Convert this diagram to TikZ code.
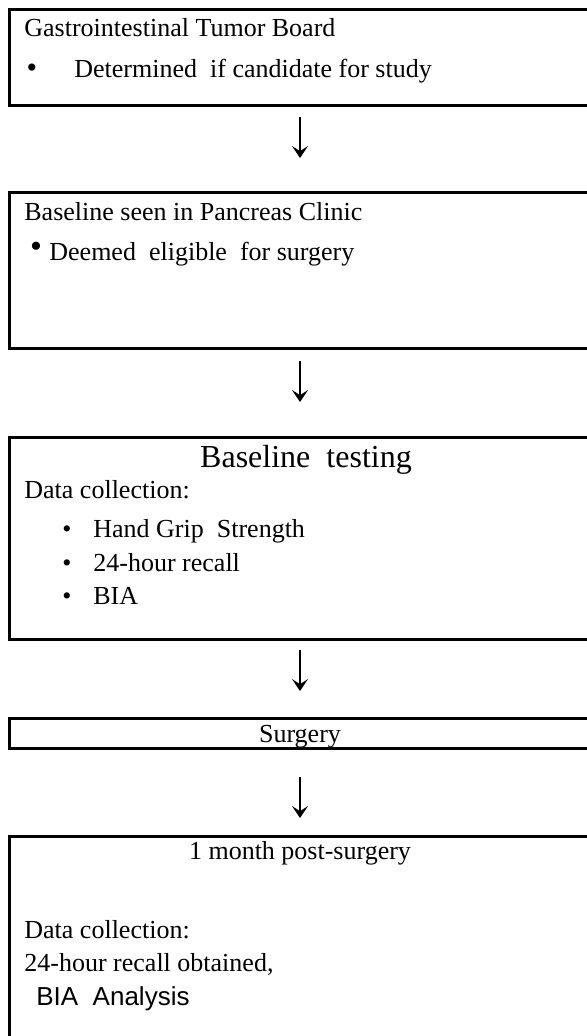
\documentclass[tikz,border=0pt]{standalone}
\usepackage{fontspec}
\setmainfont{Liberation Serif}
\newfontfamily\arialfont{Liberation Sans}
\usetikzlibrary{arrows.meta}
\tikzset{
  frame/.style={draw=black,line width=1.5pt},                 % step box
  txt/.style={anchor=base west,inner sep=0pt,font=\fontsize{13}{17}\selectfont},
  ctxt/.style={anchor=base,inner sep=0pt,font=\fontsize{13}{17}\selectfont},
  blt/.style={anchor=base,inner sep=0pt,font=\fontsize{13}{17}\selectfont},
  flow/.style={-{Stealth[length=6pt,width=8pt,inset=2.6pt]},line width=0.9pt},
}

\begin{document}
\begin{tikzpicture}[x=0.5pt,y=-0.5pt]
  \useasboundingbox (0,0) rectangle (587,1036);
  % boxes run off the right (and last one off the bottom)
  \draw[frame] (9,10) rectangle (600,106);
  \draw[frame] (9,193) rectangle (600,349);
  \draw[frame] (9,438) rectangle (600,639);
  \draw[frame] (9,718) rectangle (600,748);
  \draw[frame] (9,836) rectangle (600,1050);
  % tumor board
  \node[txt] (gtb) at (24,37) {Gastrointestinal Tumor Board};
  \node[blt,font=\fontsize{15}{17}\selectfont] (gtbb) at (32,78) {\textbullet};
  \node[txt] (cand) at (74,78) {Determined\ \ if candidate for study};
  % pancreas clinic
  \node[txt] (pcl) at (24,221) {Baseline seen in Pancreas Clinic};
  \node[blt,font=\fontsize{17}{17}\selectfont] (pclb) at (36,258) {\textbullet};
  \node[txt] (elig) at (49,261) {Deemed\ \ eligible\ \ for surgery};
  % baseline testing
  \node[ctxt,font=\fontsize{16}{18}\selectfont] (bt) at (306,467) {Baseline\ \ testing};
  \node[txt] (dc1) at (24,498) {Data collection:};
  \foreach \i/\y/\t in {1/537/Hand Grip\ \ Strength,2/571/24-hour recall,3/604/BIA}{
    \node[blt] (bl\i) at (67,\y) {\textbullet};
    \node[txt] (it\i) at (93,\y) {\t};
  }
  % surgery
  \node[ctxt] (srg) at (300,742) {Surgery};
  % follow-up
  \node[ctxt] (pst) at (300,859) {1 month post-surgery};
  \node[txt] (dc2) at (24,938) {Data collection:};
  \node[txt] (rec) at (24,971) {24-hour recall obtained,};
  \node[txt,font=\arialfont\fontsize{13}{17}\selectfont] (bia) at (36,1005) {BIA\ \ Analysis};
  % arrows between the boxes
  \coordinate (a1) at (300,117); \coordinate (b1) at (300,158);
  \coordinate (a2) at (300,361); \coordinate (b2) at (300,402);
  \coordinate (a3) at (300,650); \coordinate (b3) at (300,691);
  \coordinate (a4) at (300,777); \coordinate (b4) at (300,818);
  \foreach \i in {1,...,4} \draw[flow] (a\i) -- (b\i);
\end{tikzpicture}
\end{document}
